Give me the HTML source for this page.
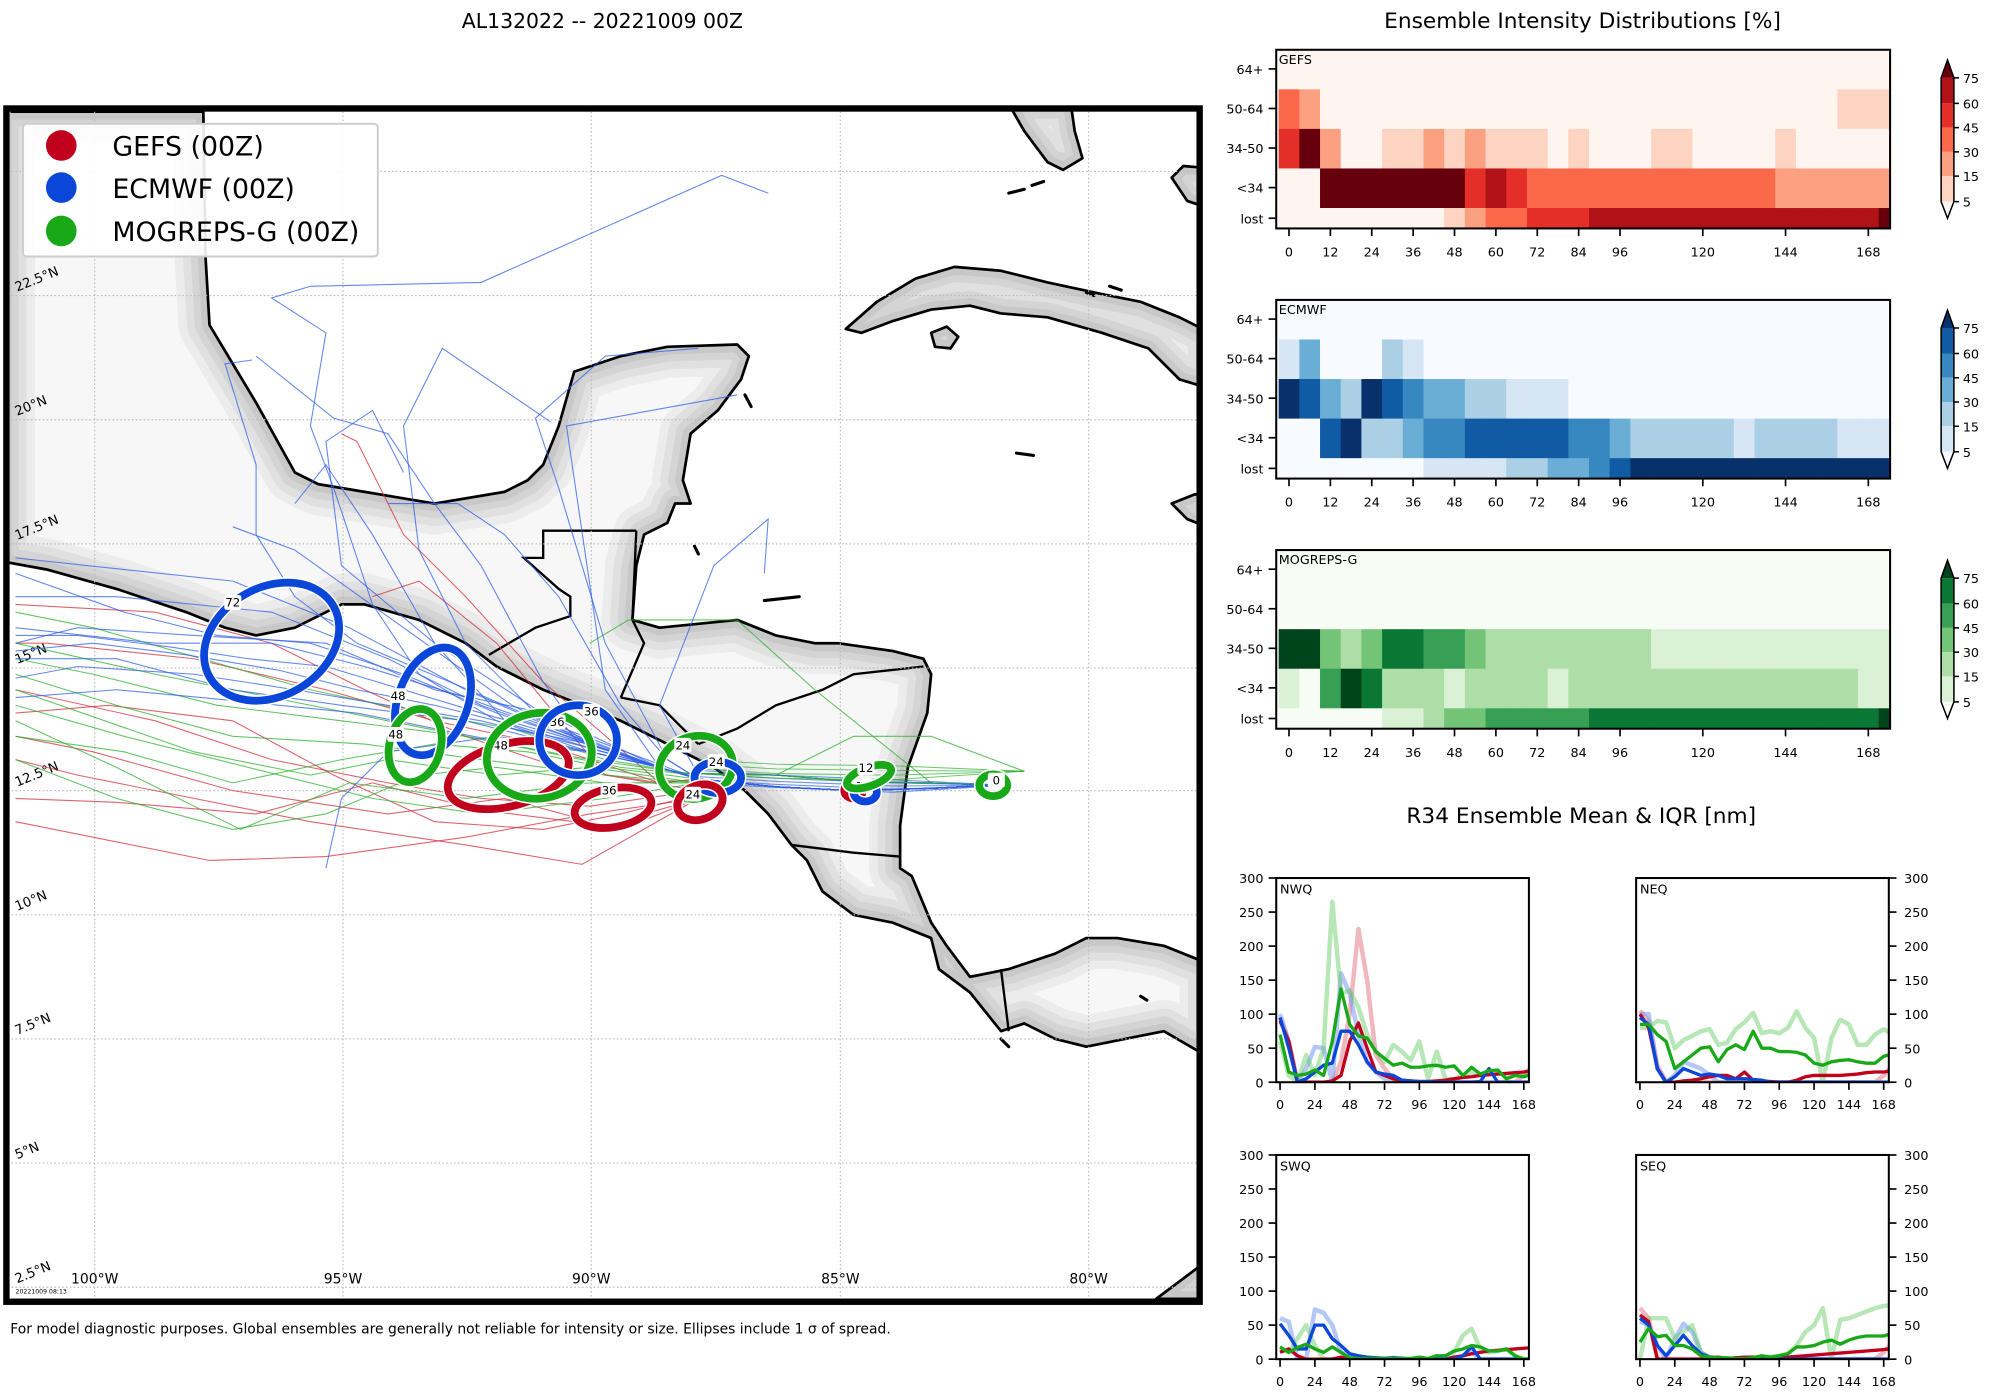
<!DOCTYPE html>
<html><head><meta charset="utf-8">
<style>
html,body{margin:0;padding:0;background:#fff;}
svg{display:block;font-family:"DejaVu Sans","Liberation Sans",sans-serif;}
</style></head>
<body>
<svg id="root" width="2000" height="1400" viewBox="0 0 1567.1 1097" xmlns="http://www.w3.org/2000/svg">
<text x="472" y="22" font-size="16" text-anchor="middle">AL132022 -- 20221009 00Z</text>
<text x="1240" y="22" font-size="17" text-anchor="middle">Ensemble Intensity Distributions [%]</text>
<text x="1239" y="645" font-size="17" text-anchor="middle">R34 Ensemble Mean &amp; IQR [nm]</text>
<text x="8" y="1045" font-size="10.9">For model diagnostic purposes. Global ensembles are generally not reliable for intensity or size. Ellipses include 1 σ of spread.</text>

<defs>
<clipPath id="mapclip"><rect x="5" y="85" width="935" height="935"/></clipPath>
</defs>
<g clip-path="url(#mapclip)">
  <rect x="5" y="85" width="935" height="935" fill="#fff"/>
  <g id="mapg" transform="translate(0,78.4) scale(0.608)"></g>
</g>
<rect x="5" y="85" width="935" height="935" fill="none" stroke="#000" stroke-width="5"/>
<g id="heat"></g>
<g id="r34"></g>
</svg>
<script>
const NS="http://www.w3.org/2000/svg";
function mk(tag,attrs,parent,txt){const e=document.createElementNS(NS,tag);for(const k in attrs)e.setAttribute(k,attrs[k]);if(txt!==undefined)e.textContent=txt;parent.appendChild(e);return e;}

/* ================= MAP ================= */
const mapg=document.getElementById('mapg');
const landMain=[[15,15],[262,15],[265,205],[270,290],[300,340],[330,390],[380,480],[410,495],[470,505],[560,520],[650,505],[680,490],[700,470],[720,420],[740,350],[800,330],[860,318],[950,315],[965,330],[955,360],[925,400],[890,430],[880,490],[890,520],[870,520],[860,545],[830,560],[820,600],[815,670],[850,680],[900,675],[950,670],[1000,690],[1050,700],[1080,700],[1150,710],[1190,720],[1200,740],[1195,790],[1170,860],[1160,935],[1160,990],[1175,1000],[1200,1060],[1220,1090],[1250,1130],[1300,1120],[1360,1100],[1400,1080],[1440,1080],[1500,1090],[1550,1110],[1560,1112],[1560,1235],[1500,1200],[1400,1220],[1360,1210],[1320,1190],[1290,1200],[1250,1150],[1210,1120],[1200,1080],[1150,1060],[1100,1050],[1060,1020],[1040,980],[1020,960],[990,920],[960,890],[920,860],[860,830],[800,800],[750,780],[700,760],[640,730],[600,700],[540,670],[470,650],[440,650],[420,660],[380,680],[330,690],[290,680],[240,660],[150,630],[60,605],[5,595],[5,5],[15,5]];
const cuba=[[1090,295],[1130,260],[1180,230],[1230,215],[1290,220],[1350,235],[1420,250],[1470,260],[1520,280],[1560,300],[1560,372],[1520,360],[1480,320],[1420,300],[1350,280],[1290,275],[1250,265],[1200,270],[1150,285],[1110,300]];
const florida=[[1300,5],[1320,40],[1350,80],[1370,90],[1395,75],[1385,40],[1380,5]];
const hisp=[[1510,100],[1525,85],[1560,88],[1560,140],[1530,130]];
const isl=[[1510,520],[1540,508],[1560,510],[1560,552],[1530,540]];
const colombia=[[1490,1545],[1550,1500],[1560,1498],[1560,1545]];
const pines=[[1200,300],[1220,292],[1235,305],[1225,320],[1205,318]];
const lands=[landMain,cuba,florida,hisp,isl,colombia,pines];
const pts=a=>a.map(p=>p.join(',')).join(' ');
const cpl=mk('clipPath',{id:'landclip'},mapg);
lands.forEach(l=>mk('polygon',{points:pts(l)},cpl));
const landG=mk('g',{},mapg);


lands.forEach(l=>mk('polygon',{points:pts(l),fill:'#f7f7f7'},landG));
const halo=mk('g',{'clip-path':'url(#landclip)'},mapg);
[[80,'#ececec'],[58,'#e0e0e0'],[38,'#d4d4d4'],[20,'#c8c8c8']].forEach(([w,c])=>{lands.forEach(l=>mk('polygon',{points:pts(l),fill:'none',stroke:c,'stroke-width':w,'stroke-linejoin':'round'},halo));});
lands.forEach(l=>mk('polygon',{points:pts(l),fill:'none',stroke:'#000','stroke-width':3.5,'stroke-linejoin':'round'},mapg));
[[1300,120,1320,115],[1330,110,1345,105],[1310,455,1332,458],[1430,240,1445,245],[1400,248,1410,252],[985,645,1030,640],[960,380,968,395],[895,575,900,585],[1470,1155,1478,1160],[1290,1210,1300,1220]].forEach(s=>mk('line',{x1:s[0],y1:s[1],x2:s[2],y2:s[3],stroke:'#000','stroke-width':4,'stroke-linecap':'round'},mapg));
const borders=["M820,555 L700,555 L700,590 L675,590 L720,630 L735,640 L735,665 L690,680 L630,715","M820,555 L815,670","M815,670 L830,700 L800,770","M800,770 L850,780 L880,810 L900,830","M900,830 L950,810 L1000,780 L1060,760 L1100,740 L1190,730","M1020,960 L1100,970 L1160,975","M1290,1120 L1300,1200"];
borders.forEach(d=>{mk('path',{d:d,fill:'none',stroke:'#000','stroke-width':3},mapg);});
const lonX=[122,442,762,1083,1403], lonLab=['100°W','95°W','90°W','85°W','80°W'];
const latY=[92,252,412,572,732,890,1050,1210,1370,1530], latLab=['','22.5°N','20°N','17.5°N','15°N','12.5°N','10°N','7.5°N','5°N','2.5°N'];
lonX.forEach((x,i)=>{mk('line',{x1:x,y1:0,x2:x,y2:1560,stroke:'#bbb','stroke-width':1.5,'stroke-dasharray':'2,3'},mapg);
 const t=mk('text',{x:x,y:1525,'font-size':18,'text-anchor':'middle'},mapg,lonLab[i]);
 });
latY.forEach((y,i)=>{mk('line',{x1:0,y1:y,x2:1560,y2:y,stroke:'#bbb','stroke-width':1.5,'stroke-dasharray':'2,3'},mapg);
 if(latLab[i]){const t=mk('text',{x:22,y:y-5,'font-size':17,transform:`rotate(-22 22 ${y-5})`},mapg,latLab[i]);
 }});
mk('text',{x:20,y:1538,'font-size':8},mapg,'20221009 08:13');

const trunkA=[[1280,883],[1200,887],[1100,890],[1000,885],[900,875]];
const trunkB=[[1280,883],[1200,880],[1100,878],[1000,870],[900,868]];
const ecTracks=[
[[850,860],[760,830],[600,760],[450,680],[300,620],[20,590]],
[[850,860],[760,830],[620,780],[500,720],[350,660],[150,640],[20,640]],
[[850,860],[760,840],[640,800],[540,740],[480,650],[430,500],[400,420],[420,300],[350,255],[400,240],[620,235],[930,97],[990,120]],
[[850,860],[760,830],[700,750],[620,600],[560,520],[500,430],[430,410],[330,330]],
[[850,860],[760,830],[660,780],[520,680],[380,580],[300,550]],
[[860,850],[800,780],[720,640],[650,560],[590,520],[500,520]],
[[850,860],[780,760],[730,420],[950,380]],
[[850,860],[700,790],[560,760],[420,700],[250,690],[100,680],[20,700]],
[[850,860],[760,840],[600,800],[440,780],[300,760],[150,720],[20,720]],
[[860,850],[780,700],[720,500],[690,410],[780,330],[900,320]],
[[850,860],[760,840],[640,820],[500,840],[440,900],[420,990]],
[[900,870],[850,780],[920,600],[990,540],[985,610]],
[[850,860],[760,830],[560,700],[480,560],[420,470],[380,520]],
[[860,860],[700,800],[600,700],[540,580],[520,420],[570,320],[710,415]],
[[850,860],[760,830],[640,790],[520,740],[400,700],[280,690],[160,660],[20,610]],
[[850,860],[740,820],[600,770],[470,730],[350,700],[200,700],[20,680]],
[[850,860],[720,810],[580,750],[460,700],[380,640],[330,560],[330,470],[290,340],[325,335]],
[[850,860],[740,830],[620,800],[500,780],[380,760],[250,740],[100,730],[20,745]],
[[850,860],[760,830],[660,810],[560,700],[440,600],[420,440],[480,400],[520,480]],
[[850,860],[760,840],[660,830],[560,810],[460,790],[360,780],[260,770],[150,760],[20,770]],
[[850,860],[740,825],[620,790],[520,760],[420,730],[320,720],[220,705],[100,690],[20,690]],
[[850,860],[760,835],[660,805],[560,780],[460,760],[360,735],[240,715],[120,700],[20,710]]];
const gfTracks=[
[[900,900],[760,920],[600,950],[420,975],[270,980],[20,930]],
[[900,890],[760,910],[620,900],[500,880],[350,850],[200,800],[20,760]],
[[900,900],[750,985],[600,960],[400,930],[250,900],[100,870],[20,850]],
[[850,880],[720,860],[600,820],[470,760],[350,700],[200,660],[20,650]],
[[850,880],[700,750],[600,640],[520,560],[460,440],[440,430]],
[[900,900],[800,940],[650,900],[500,920],[300,890],[120,840],[20,820]],
[[850,880],[700,830],[560,800],[420,760],[250,720],[60,700],[20,700]],
[[900,890],[780,870],[640,700],[540,620],[480,640]],
[[900,900],[780,935],[620,915],[480,880],[330,920],[150,905],[20,900]],
[[900,895],[800,920],[700,940],[560,930],[430,870],[300,800],[140,780],[20,790]]];
const moTracks=[
[[900,880],[780,870],[620,850],[470,830],[300,820],[150,780],[20,740]],
[[900,880],[760,880],[600,900],[450,880],[310,940],[150,860],[20,800]],
[[900,870],[800,860],[650,830],[500,800],[350,770],[200,740],[20,700]],
[[1200,880],[1050,760],[950,670],[810,670],[760,700]],
[[900,880],[780,900],[620,920],[480,900],[320,860],[160,820],[20,780]],
[[900,880],[760,860],[640,870],[500,850],[400,870],[250,840],[20,760]],
[[900,880],[780,880],[640,860],[540,870],[420,920],[300,940],[150,900],[20,850]],
[[900,870],[760,850],[600,820],[440,800],[280,780],[120,740],[20,720]],
[[900,875],[780,860],[680,840],[560,830],[440,850],[300,880],[160,840],[20,820]],
[[900,870],[780,850],[660,810],[540,790],[400,760],[260,720],[120,680],[20,660]],
[[1000,870],[1100,820],[1200,820],[1320,865]]];
function drawTracks(list,trunk,color,name){
  const g=mk('g',{},mapg);
  
  
  list.forEach(tr=>{const p=(tr[0][0]>=1000?tr:trunk.concat(tr));
    const e=mk('polyline',{points:pts(p),fill:'none',stroke:color,'stroke-width':1.4,'stroke-opacity':0.75},g);
    
    });
}
drawTracks(gfTracks,trunkA,'#d0303f','gefs-tracks');
drawTracks(moTracks,trunkB,'#30b030','mogreps-tracks');
drawTracks(ecTracks,trunkA,'#3060e8','ecmwf-tracks');
for(const dy of [-8,-4,0,4,8]){mk('polyline',{points:pts([[1300,883],[1150,884+dy],[1000,878+dy],[900,872+dy]]),fill:'none',stroke:'#2a60e0','stroke-width':1.3,'stroke-opacity':0.7},mapg);}
for(const dy of [-12,-6,0,6]){mk('polyline',{points:pts([[1320,865],[1150,870+dy],[1000,868+dy],[900,862+dy]]),fill:'none',stroke:'#30b030','stroke-width':1.3,'stroke-opacity':0.7},mapg);}

const GC='#c0001c',EC='#0a46d8',MC='#18a818';
const ells=[
 ['ecmwf-72',350,698,92,70,-30,EC,'72',300,648],
 ['ecmwf-48',558,775,45,72,20,EC,'48',513,768],
 ['mogreps-48',535,832,33,48,15,MC,'48',510,818],
 ['gefs-48',655,870,80,40,-15,GC,'48',645,832],
 ['mogreps-36',695,845,68,55,-10,MC,'36',718,802],
 ['ecmwf-36',745,825,50,45,0,EC,'36',762,788],
 ['gefs-36',790,912,50,25,-10,GC,'36',785,890],
 ['mogreps-24',897,860,48,40,-15,MC,'24',880,832],
 ['ecmwf-24',925,873,30,20,0,EC,'24',923,853],
 ['gefs-24',902,905,30,22,-20,GC,'24',893,895],
 ['gefs-12',1100,890,12,10,0,GC,'',0,0],
 ['ecmwf-12',1115,892,15,12,0,EC,'12',1112,885],
 ['mogreps-12',1120,872,30,12,-20,MC,'12',1116,861],
 ['mogreps-0',1280,883,18,14,0,MC,'0',1284,877]];
ells.forEach(e=>{const g=mk('g',{},mapg);
 
 
 const t=`rotate(${e[5]} ${e[1]} ${e[2]})`;
 mk('ellipse',{cx:e[1],cy:e[2],rx:e[3],ry:e[4],transform:t,fill:'none',stroke:'#fff','stroke-width':14},g);
 mk('ellipse',{cx:e[1],cy:e[2],rx:e[3],ry:e[4],transform:t,fill:'none',stroke:e[6],'stroke-width':10},g);
 if(e[7]){mk('rect',{x:e[8]-11,y:e[9]-10,width:22,height:19,fill:'#fff',rx:3},g);
  mk('text',{x:e[8],y:e[9]+5,'font-size':15,'text-anchor':'middle',fill:'#000'},g,e[7]);}
});

const root=document.getElementById('root');
const lg=mk('g',{},root);


mk('rect',{x:18,y:97,width:278,height:104,fill:'#fff','fill-opacity':0.9,stroke:'#ccc','stroke-width':1.5,rx:3},lg);
[['GEFS (00Z)',GC,114],['ECMWF (00Z)',EC,147],['MOGREPS-G (00Z)',MC,181]].forEach(([n,c,y])=>{
 const le=mk('g',{},lg);
 
 
 mk('circle',{cx:48,cy:y,r:12,fill:c},le);
 mk('text',{x:88,y:y+8,'font-size':21},le,n);});

/* ================= HEATMAPS ================= */
const heatHours=[0,6,12,18,24,30,36,42,48,54,60,66,72,78,84,90,96,102,108,114,120,126,132,138,144,150,156,162,168,174];
const rowLabels=['64+','50-64','34-50','<34','lost'];
const xTicks=[0,12,24,36,48,60,72,84,96,120,144,168];
const cbTicks=[75,60,45,30,15,5];
const gefs64=[0,0,0,0,0,0,0,0,0,0,0,0,0,0,0,0,0,0,0,0,0,0,0,0,0,0,0,0,0,0];
const gefs50=[3,2,0,0,0,0,0,0,0,0,0,0,0,0,0,0,0,0,0,0,0,0,0,0,0,0,0,1,1,1];
const gefs34=[4,6,2,0,0,1,1,2,1,2,1,1,1,0,1,0,0,0,1,1,0,0,0,0,1,0,0,0,0,0];
const gefsLt=[0,0,6,6,6,6,6,6,6,4,5,4,3,3,3,3,3,3,3,3,3,3,3,3,2,2,2,2,2,2];
const gefsLost=[0,0,0,0,0,0,0,0,1,2,3,3,4,4,4,5,5,5,5,5,5,5,5,5,5,5,5,5,5,6];
const ecmf64=[0,0,0,0,0,0,0,0,0,0,0,0,0,0,0,0,0,0,0,0,0,0,0,0,0,0,0,0,0,0];
const ecmf50=[1,3,0,0,0,2,1,0,0,0,0,0,0,0,0,0,0,0,0,0,0,0,0,0,0,0,0,0,0,0];
const ecmf34=[6,5,3,2,6,5,4,3,3,2,2,1,1,1,0,0,0,0,0,0,0,0,0,0,0,0,0,0,0,0];
const ecmfLt=[0,0,5,6,2,2,3,4,4,5,5,5,5,5,4,4,3,2,2,2,2,2,1,2,2,2,2,1,1,1];
const ecmfLost=[0,0,0,0,0,0,0,1,1,1,1,2,2,3,3,4,5,6,6,6,6,6,6,6,6,6,6,6,6,6];
const mogr64=[0,0,0,0,0,0,0,0,0,0,0,0,0,0,0,0,0,0,0,0,0,0,0,0,0,0,0,0,0,0];
const mogr50=[0,0,0,0,0,0,0,0,0,0,0,0,0,0,0,0,0,0,0,0,0,0,0,0,0,0,0,0,0,0];
const mogr34=[6,6,3,2,3,5,5,4,4,3,2,2,2,2,2,2,2,2,1,1,1,1,1,1,1,1,1,1,1,1];
const mogrLt=[1,0,4,6,5,2,2,2,1,2,2,2,2,1,2,2,2,2,2,2,2,2,2,2,2,2,2,2,1,1];
const mogrLost=[0,0,0,0,0,1,1,2,3,3,4,4,4,4,4,5,5,5,5,5,5,5,5,5,5,5,5,5,5,6];
const reds=['#fff5f0','#fdd4c2','#fca082','#fb694a','#e32f27','#b11218','#67000d'];
const blues=['#f7fbff','#d6e6f4','#abd0e6','#6aaed6','#3787c0','#105ba4','#08306b'];
const greens=['#f7fcf5','#dbf1d6','#aedea7','#73c476','#37a055','#0b7734','#00441b'];
const heat=document.getElementById('heat');
const hx=t=>1010+t*2.702;
function heatPanel(name,top,rows,pal){
 const g=mk('g',{},heat);
 
 
 const L=1000,R=1481;
 const rTop=[0,31,62,93,124].map(v=>v+top), rH=[31,31,31,31,16];
 rows.forEach((row,ri)=>{row.forEach((lv,ci)=>{
   let x1=Math.max(L,hx(heatHours[ci]-3)),x2=Math.min(R,hx(heatHours[ci]+3));
   if(x2<=x1)return;
   const c=mk('rect',{x:x1,y:rTop[ri],width:x2-x1+0.3,height:rH[ri]+0.3,fill:pal[lv]},g);
   
   
 });});
 mk('rect',{x:L,y:top,width:R-L,height:140,fill:'none',stroke:'#000','stroke-width':1.6},g);
 const lab=mk('text',{x:L+2,y:top+11,'font-size':10},g,name==='gefs'?'GEFS':name==='ecmwf'?'ECMWF':'MOGREPS-G');
 
 const yc=[15,46,77,108,132];
 rowLabels.forEach((r,i)=>{mk('line',{x1:L-6,x2:L,y1:top+yc[i],y2:top+yc[i],stroke:'#000','stroke-width':1.3},g);
  const t=mk('text',{x:L-10,y:top+yc[i]+4,'font-size':10,'text-anchor':'end'},g,r);
  });
 xTicks.forEach(v=>{mk('line',{x1:hx(v),x2:hx(v),y1:top+140,y2:top+146,stroke:'#000','stroke-width':1.3},g);
  const t=mk('text',{x:hx(v),y:top+162,'font-size':10,'text-anchor':'middle'},g,String(v));
  });
 const cb=mk('g',{},g);
 
 
 const cx=1521,cw=10, ty=[top+22,top+42,top+61,top+80,top+99,top+119];
 mk('polygon',{points:`${cx},${ty[0]} ${cx+cw/2},${top+8} ${cx+cw},${ty[0]}`,fill:pal[6]},cb);
 for(let i=0;i<5;i++) mk('rect',{x:cx,y:ty[i],width:cw,height:ty[i+1]-ty[i],fill:pal[5-i]},cb);
 mk('polygon',{points:`${cx},${ty[5]} ${cx+cw/2},${top+132} ${cx+cw},${ty[5]}`,fill:pal[0]},cb);
 mk('polygon',{points:`${cx},${ty[0]} ${cx+cw/2},${top+8} ${cx+cw},${ty[0]} ${cx+cw},${ty[5]} ${cx+cw/2},${top+132} ${cx},${ty[5]}`,fill:'none',stroke:'#000','stroke-width':1.2},cb);
 cbTicks.forEach((v,i)=>{mk('line',{x1:cx+cw,x2:cx+cw+4,y1:ty[i],y2:ty[i],stroke:'#000','stroke-width':1.2},cb);
  mk('text',{x:cx+cw+7,y:ty[i]+4,'font-size':10},cb,String(v));});
}
heatPanel('gefs',39,[gefs64,gefs50,gefs34,gefsLt,gefsLost],reds);
heatPanel('ecmwf',235,[ecmf64,ecmf50,ecmf34,ecmfLt,ecmfLost],blues);
heatPanel('mogreps',431,[mogr64,mogr50,mogr34,mogrLt,mogrLost],greens);

/* ================= R34 ================= */
const r34Hours=[0,6,12,18,24,30,36,42,48,54,60,66,72,78,84,90,96,102,108,114,120,126,132,138,144,150,156,162,168,174];
const r34Ticks=[0,24,48,72,96,120,144,168];
const r34YTicks=[0,50,100,150,200,250,300];
const nwqGefs=[90,60,0,0,0,0,2,10,60,87,50,15,10,5,3,2,1,1,2,3,5,7,8,10,11,12,13,14,15,17];
const nwqGefsIqr=[95,60,0,0,0,0,0,30,100,225,150,40,20,5,0,0,0,0,0,0,0,0,0,0,0,0,0,0,10,25];
const nwqEc=[95,50,0,5,15,25,28,75,75,55,30,15,12,10,3,2,1,1,0,0,0,0,0,1,20,0,0,0,0,0];
const nwqEcIqr=[100,60,0,20,52,50,0,160,130,70,30,15,5,0,0,0,0,0,0,0,0,0,0,0,0,0,0,0,0,0];
const nwqMo=[70,15,10,12,18,10,60,137,85,68,65,45,35,25,28,22,22,24,25,22,24,10,22,12,17,18,5,10,8,12];
const nwqMoIqr=[60,10,0,40,10,50,265,130,135,110,70,45,30,55,45,32,60,5,45,5,5,10,15,10,12,15,8,10,10,12];
const neqGefs=[100,80,20,0,0,2,3,5,8,10,10,5,15,3,2,1,0,0,3,8,10,10,10,10,11,12,14,15,15,17];
const neqGefsIqr=[105,90,25,0,0,0,0,0,0,0,0,0,0,0,0,0,0,0,0,0,0,0,0,0,0,0,0,0,10,25];
const neqEc=[95,85,20,0,8,20,15,10,12,10,5,5,5,4,3,0,0,0,0,0,0,0,0,0,0,0,0,0,0,0];
const neqEcIqr=[100,100,20,0,10,30,25,20,10,0,0,0,0,0,0,0,0,0,0,0,0,0,0,0,0,0,0,0,0,0];
const neqMo=[85,85,70,60,20,30,40,50,52,30,48,55,48,75,50,50,45,45,44,40,28,25,30,32,33,30,28,28,38,42];
const neqMoIqr=[80,80,90,88,50,62,68,75,78,55,58,78,88,102,72,75,72,80,104,80,65,0,65,92,85,55,55,70,78,70];
const swqGefs=[10,15,5,0,0,0,0,3,0,0,0,0,0,0,0,0,0,0,0,0,3,5,8,10,12,13,14,15,16,17];
const swqEc=[52,35,15,15,50,50,30,20,8,5,3,2,1,2,1,0,0,0,0,0,0,5,18,0,0,0,0,0,0,0];
const swqEcIqr=[60,55,0,0,73,68,50,10,5,3,2,1,1,2,1,0,0,0,0,0,0,5,10,0,0,0,0,0,0,0];
const swqMo=[18,10,17,22,15,10,18,10,2,1,1,1,1,1,1,1,3,1,5,5,12,15,20,18,12,12,15,5,0,0];
const swqMoIqr=[15,10,30,50,20,0,0,0,0,0,0,0,0,0,0,0,0,0,0,0,10,35,45,15,10,12,15,5,0,0];
const seqGefs=[65,55,0,0,0,0,0,0,2,3,1,2,3,3,3,2,2,3,4,5,6,7,8,9,10,11,12,13,14,16];
const seqGefsIqr=[75,60,0,0,0,0,0,0,0,0,0,0,0,0,0,0,0,0,0,0,0,0,0,0,0,0,0,0,10,25];
const seqEc=[60,50,20,5,20,35,20,8,3,2,1,1,1,1,1,0,0,0,0,0,0,0,0,0,0,0,0,0,0,0];
const seqEcIqr=[55,50,20,0,30,52,40,10,3,0,0,0,0,0,0,0,0,0,0,0,0,0,0,0,0,0,0,0,0,0];
const seqMo=[25,45,33,35,20,20,15,5,3,2,2,1,1,2,5,3,5,8,18,18,20,25,28,22,28,32,34,34,34,38];
const seqMoIqr=[0,60,60,60,30,40,50,10,3,2,1,1,1,2,3,3,5,8,20,40,50,75,0,58,60,65,70,75,78,80];
const r34=document.getElementById('r34');
function r34Panel(name,label,L,T,right,series){
 const g=mk('g',{},r34);
 
 
 const W=198,H=160;
 const x=t=>L+3+t*(191/168), y=v=>T+H-v*H/300;
 mk('rect',{x:L,y:T,width:W,height:H,fill:'#fff'},g);
 const cp='cp'+name; const c=mk('clipPath',{id:cp},g); mk('rect',{x:L,y:T-2,width:W,height:H+2},c);
 const sg=mk('g',{'clip-path':`url(#${cp})`},g);
 series.forEach(s=>{const p=s.data.map((v,i)=>x(r34Hours[i])+','+y(v)).join(' ');
  const e=mk('polyline',{points:p,fill:'none',stroke:s.c,'stroke-width':s.w,'stroke-opacity':s.o,'stroke-linejoin':'round'},sg);
  
  });
 mk('rect',{x:L,y:T,width:W,height:H,fill:'none',stroke:'#000','stroke-width':1.6},g);
 mk('text',{x:L+3,y:T+12,'font-size':10},g,label);
 r34Ticks.forEach(v=>{mk('line',{x1:x(v),x2:x(v),y1:T+H,y2:T+H+6,stroke:'#000','stroke-width':1.3},g);
  const t=mk('text',{x:x(v),y:T+H+21,'font-size':10,'text-anchor':'middle'},g,String(v));
  });
 r34YTicks.forEach(v=>{const ax=right?L+W:L;
  mk('line',{x1:right?ax:ax-6,x2:right?ax+6:ax,y1:y(v),y2:y(v),stroke:'#000','stroke-width':1.3},g);
  const t=mk('text',{x:right?ax+12:ax-10,y:y(v)+4,'font-size':10,'text-anchor':right?'start':'end'},g,String(v));
  });
}
function S(gI,g,eI,e,mI,m){const a=[];
 if(gI)a.push({data:gI,c:'#e06070',w:3.5,o:0.45,n:'gefs-iqr'});
 if(eI)a.push({data:eI,c:'#6a90f0',w:3.5,o:0.5,n:'ecmwf-iqr'});
 if(mI)a.push({data:mI,c:'#60c860',w:3.5,o:0.45,n:'mogreps-iqr'});
 a.push({data:g,c:'#c0001c',w:2.6,o:1,n:'gefs-mean'});
 a.push({data:e,c:'#0a46d8',w:2.6,o:1,n:'ecmwf-mean'});
 a.push({data:m,c:'#18a818',w:2.6,o:1,n:'mogreps-mean'});return a;}
r34Panel('nwq','NWQ',1000,688,false,S(nwqGefsIqr,nwqGefs,nwqEcIqr,nwqEc,nwqMoIqr,nwqMo));
r34Panel('neq','NEQ',1282,688,true,S(neqGefsIqr,neqGefs,neqEcIqr,neqEc,neqMoIqr,neqMo));
r34Panel('swq','SWQ',1000,905,false,S(null,swqGefs,swqEcIqr,swqEc,swqMoIqr,swqMo));
r34Panel('seq','SEQ',1282,905,true,S(seqGefsIqr,seqGefs,seqEcIqr,seqEc,seqMoIqr,seqMo));
</script>
</body></html>
